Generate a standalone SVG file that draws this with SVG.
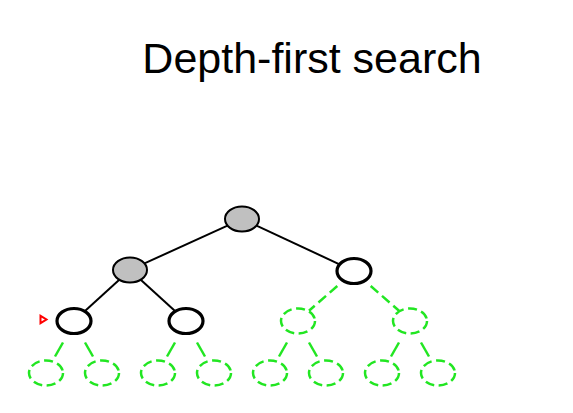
<svg xmlns="http://www.w3.org/2000/svg" width="573" height="413" viewBox="0 0 573 413">
<style>
.title{font-family:"Liberation Sans",Arial,sans-serif;font-size:43px;fill:#000}
.visited{fill:#c0c0c0;stroke:#000;stroke-width:2}
.open{fill:#fff;stroke:#000;stroke-width:3.2}
.unseen{fill:none;stroke:#22e622;stroke-width:2.5;stroke-dasharray:9,4.5}
.edge{stroke:#000;stroke-width:2;fill:none}
.gedge{stroke:#22e622;stroke-width:2.5;stroke-dasharray:10,5;fill:none}
.gseg{stroke:#22e622;stroke-width:2.5;fill:none}
</style>
<rect width="573" height="413" fill="#fff"/>
<text class="title" x="312" y="73" text-anchor="middle">Depth-first search</text>
<g id="connectors">
<line class="edge" x1="227.5" y1="225.6" x2="144.5" y2="263.4"/>
<line class="edge" x1="256.5" y1="225.7" x2="339.5" y2="264.3"/>
<line class="edge" x1="119.3" y1="279.7" x2="84.7" y2="311.3"/>
<line class="edge" x1="140.7" y1="279.7" x2="175.3" y2="311.3"/>
<line class="gedge" x1="337.3" y1="286" x2="309" y2="310.7"/>
<line class="gedge" x1="370.7" y1="286" x2="399" y2="310.7"/>
<line class="gseg" x1="63" y1="342.5" x2="55" y2="356.5"/>
<line class="gseg" x1="85" y1="342.5" x2="93" y2="356.5"/>
<line class="gseg" x1="175" y1="342.5" x2="167" y2="356.5"/>
<line class="gseg" x1="197" y1="342.5" x2="205" y2="356.5"/>
<line class="gseg" x1="287" y1="342.5" x2="279" y2="356.5"/>
<line class="gseg" x1="309" y1="342.5" x2="317" y2="356.5"/>
<line class="gseg" x1="399" y1="342.5" x2="391" y2="356.5"/>
<line class="gseg" x1="421" y1="342.5" x2="429" y2="356.5"/>
</g>
<g id="n-root"><ellipse class="visited" cx="242" cy="219" rx="17" ry="12.5"/></g>
<g id="n-l"><ellipse class="visited" cx="130" cy="270" rx="17" ry="12.5"/></g>
<g id="n-r"><ellipse class="open" cx="354" cy="271" rx="17" ry="12.5"/></g>
<g id="n-ll"><ellipse class="open" cx="74" cy="321" rx="17" ry="12.5"/></g>
<g id="n-lr"><ellipse class="open" cx="186" cy="321" rx="17" ry="12.5"/></g>
<g id="n-rl"><ellipse class="unseen" cx="298" cy="321" rx="17" ry="12.5"/></g>
<g id="n-rr"><ellipse class="unseen" cx="410" cy="321" rx="17" ry="12.5"/></g>
<g id="n-lll"><ellipse class="unseen" cx="46" cy="373" rx="17" ry="12.5"/></g>
<g id="n-llr"><ellipse class="unseen" cx="102" cy="373" rx="17" ry="12.5"/></g>
<g id="n-lrl"><ellipse class="unseen" cx="158" cy="373" rx="17" ry="12.5"/></g>
<g id="n-lrr"><ellipse class="unseen" cx="214" cy="373" rx="17" ry="12.5"/></g>
<g id="n-rll"><ellipse class="unseen" cx="270" cy="373" rx="17" ry="12.5"/></g>
<g id="n-rlr"><ellipse class="unseen" cx="326" cy="373" rx="17" ry="12.5"/></g>
<g id="n-rrl"><ellipse class="unseen" cx="382" cy="373" rx="17" ry="12.5"/></g>
<g id="n-rrr"><ellipse class="unseen" cx="438" cy="373" rx="17" ry="12.5"/></g>
<g id="pointer"><polygon points="40.5,315.8 40.5,323.2 46.5,319.5" fill="#fff" stroke="#f00" stroke-width="2" stroke-linejoin="miter"/></g>
</svg>
